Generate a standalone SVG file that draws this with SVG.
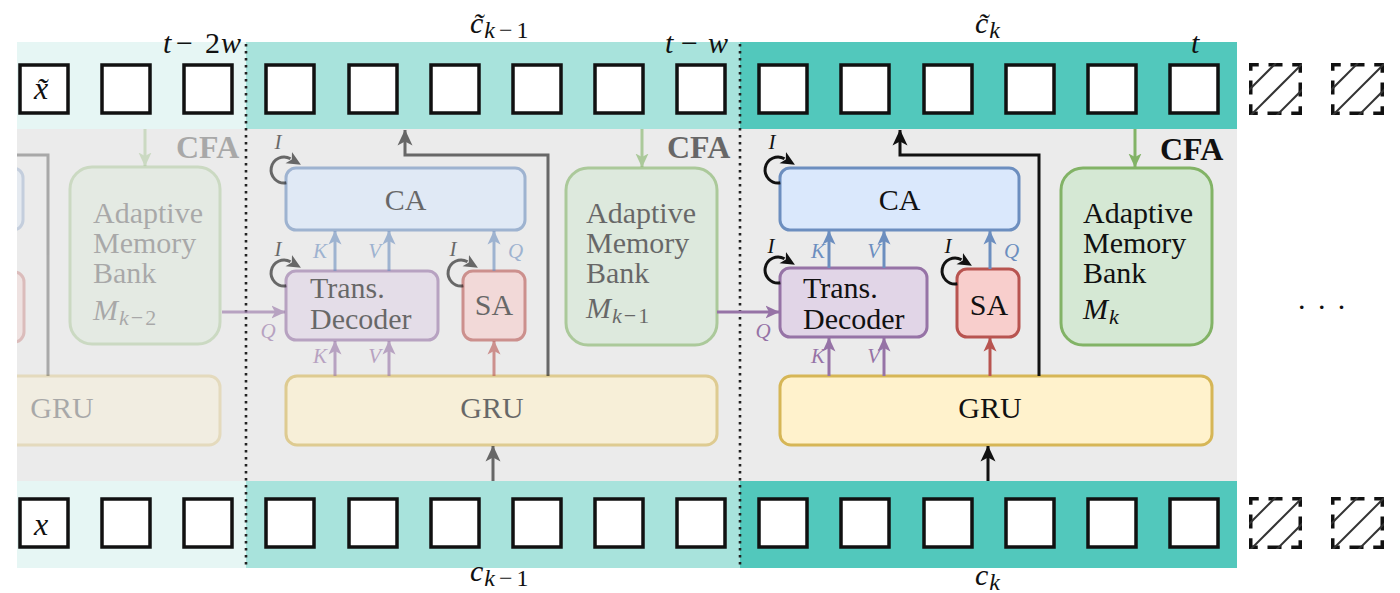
<svg xmlns="http://www.w3.org/2000/svg" width="1400" height="593" viewBox="0 0 1400 593">
  <style>
    .f{font-family:'Liberation Serif','DejaVu Serif',serif}
    .it{font-style:italic}
    .up{font-style:normal}
    .lbl{font-size:30px;fill:#111}
    .cfa{font-size:32px;font-weight:bold;fill:#111}
    .frame{fill:#fff;stroke:#111;stroke-width:3.5}
    .pend{fill:none;stroke:#111;stroke-width:3.5;stroke-dasharray:16 9.75 14 9.75;stroke-dashoffset:8}
    .hatch{stroke:#333;stroke-width:2}
    .ca{fill:#DAE8FC;stroke:#6C8EBF;stroke-width:3}
    .td{fill:#E1D5E7;stroke:#9673A6;stroke-width:3}
    .sa{fill:#F8CECC;stroke:#B85450;stroke-width:3}
    .gru{fill:#FFF2CC;stroke:#D6B656;stroke-width:3}
    .mb{fill:#D5E8D4;stroke:#82B366;stroke-width:3}
    .mid{opacity:.6}
    .faint{opacity:.3}
    .w-k{fill:none;stroke:#111;stroke-width:3}
    .w-b{fill:none;stroke:#6C8EBF;stroke-width:3}
    .w-p{fill:none;stroke:#9673A6;stroke-width:3}
    .w-r{fill:none;stroke:#B85450;stroke-width:3}
    .w-g{fill:none;stroke:#82B366;stroke-width:3}
    .kv{font-size:21px;font-style:italic}
    .kb{fill:#6C8EBF}
    .kp{fill:#9673A6}
    .ii{font-size:21px;font-style:italic;fill:#111}
    .dots{fill:none;stroke:#222;stroke-width:2.6;stroke-dasharray:2.6 4.4}
  </style>
  <defs>
    <marker id="ah-k" viewBox="0 0 16 16" refX="15.5" refY="8" markerWidth="16" markerHeight="16" orient="auto" markerUnits="userSpaceOnUse"><path d="M0,0.5 L16,8 L0,15.5 L4,8 z" fill="#111"/></marker>
    <marker id="ah-b" viewBox="0 0 14 14" refX="13.5" refY="7" markerWidth="14" markerHeight="14" orient="auto" markerUnits="userSpaceOnUse"><path d="M0,0.5 L14,7 L0,13.5 L3.5,7 z" fill="#6C8EBF"/></marker>
    <marker id="ah-p" viewBox="0 0 14 14" refX="13.5" refY="7" markerWidth="14" markerHeight="14" orient="auto" markerUnits="userSpaceOnUse"><path d="M0,0.5 L14,7 L0,13.5 L3.5,7 z" fill="#9673A6"/></marker>
    <marker id="ah-r" viewBox="0 0 14 14" refX="13.5" refY="7" markerWidth="14" markerHeight="14" orient="auto" markerUnits="userSpaceOnUse"><path d="M0,0.5 L14,7 L0,13.5 L3.5,7 z" fill="#B85450"/></marker>
    <marker id="ah-g" viewBox="0 0 14 14" refX="13.5" refY="7" markerWidth="14" markerHeight="14" orient="auto" markerUnits="userSpaceOnUse"><path d="M0,0.5 L14,7 L0,13.5 L3.5,7 z" fill="#82B366"/></marker>
    <marker id="ah-loop" viewBox="0 0 14 14" refX="2" refY="7" markerWidth="14" markerHeight="14" orient="auto" markerUnits="userSpaceOnUse"><path d="M0,0.5 L14,7 L0,13.5 L3.5,7 z" fill="#111"/></marker>
    <clipPath id="clip-left"><rect x="17" y="0" width="1400" height="593"/></clipPath>
    <clipPath id="clip-pend"><rect x="0" y="0" width="53" height="52"/></clipPath>
    <g id="pending">
      <rect class="pend" x="1.75" y="1.75" width="49.5" height="48.5"/>
      <g clip-path="url(#clip-pend)">
        <line class="hatch" x1="-28" y1="55" x2="27" y2="0"/>
        <line class="hatch" x1="-1" y1="55" x2="54" y2="0"/>
        <line class="hatch" x1="25" y1="55" x2="80" y2="0"/>
      </g>
    </g>
  </defs>

  <!-- background bands -->
  <g id="background">
    <rect x="17" y="129" width="1220" height="352" fill="#EBEBEB"/>
    <rect x="17" y="42" width="229" height="87" fill="#E6F6F4"/>
    <rect x="246" y="42" width="494" height="87" fill="#A8E3DC"/>
    <rect x="740" y="42" width="497" height="87" fill="#52C8BC"/>
    <rect x="17" y="481" width="229" height="87" fill="#E6F6F4"/>
    <rect x="246" y="481" width="494" height="87" fill="#A8E3DC"/>
    <rect x="740" y="481" width="497" height="87" fill="#52C8BC"/>
    <line class="dots" x1="246" y1="44" x2="246" y2="568"/>
    <line class="dots" x1="740" y1="44" x2="740" y2="568"/>
  </g>

  <!-- output sequence (top) -->
  <g id="top-strip">
    <rect class="frame" x="20" y="65" width="48" height="48"/>
    <rect class="frame" x="102" y="65" width="48" height="48"/>
    <rect class="frame" x="184" y="65" width="48" height="48"/>
    <rect class="frame" x="266" y="65" width="48" height="48"/>
    <rect class="frame" x="349" y="65" width="48" height="48"/>
    <rect class="frame" x="431" y="65" width="48" height="48"/>
    <rect class="frame" x="513" y="65" width="48" height="48"/>
    <rect class="frame" x="595" y="65" width="48" height="48"/>
    <rect class="frame" x="677" y="65" width="48" height="48"/>
    <rect class="frame" x="759" y="65" width="48" height="48"/>
    <rect class="frame" x="841" y="65" width="48" height="48"/>
    <rect class="frame" x="924" y="65" width="48" height="48"/>
    <rect class="frame" x="1006" y="65" width="48" height="48"/>
    <rect class="frame" x="1088" y="65" width="48" height="48"/>
    <rect class="frame" x="1170" y="65" width="48" height="48"/>
    <use href="#pending" x="1249" y="63"/>
    <use href="#pending" x="1331" y="63"/>
    <text class="f it" x="41" y="99" font-size="32" text-anchor="middle" fill="#111">x̃</text>
    <text class="f it" font-size="30" y="53" fill="#111"><tspan x="163">t</tspan><tspan class="up" x="176">−</tspan><tspan class="up" x="205">2</tspan><tspan x="221">w</tspan></text>
    <text class="f it" font-size="30" y="53" fill="#111"><tspan x="665">t</tspan><tspan class="up" x="681">−</tspan><tspan x="708">w</tspan></text>
    <text class="f it" font-size="30" x="1191" y="53" fill="#111">t</text>
    <text class="f it" font-size="30" x="470" y="33" fill="#111">c̃<tspan font-size="24" dy="5" dx="1">k</tspan><tspan class="up" font-size="24" dx="4">−</tspan><tspan class="up" font-size="24" dx="4">1</tspan></text>
    <text class="f it" font-size="30" x="975" y="33" fill="#111">c̃<tspan font-size="24" dy="5" dx="1">k</tspan></text>
  </g>

  <!-- input sequence (bottom) -->
  <g id="bottom-strip">
    <rect class="frame" x="20" y="499" width="48" height="48"/>
    <rect class="frame" x="102" y="499" width="48" height="48"/>
    <rect class="frame" x="184" y="499" width="48" height="48"/>
    <rect class="frame" x="266" y="499" width="48" height="48"/>
    <rect class="frame" x="349" y="499" width="48" height="48"/>
    <rect class="frame" x="431" y="499" width="48" height="48"/>
    <rect class="frame" x="513" y="499" width="48" height="48"/>
    <rect class="frame" x="595" y="499" width="48" height="48"/>
    <rect class="frame" x="677" y="499" width="48" height="48"/>
    <rect class="frame" x="759" y="499" width="48" height="48"/>
    <rect class="frame" x="841" y="499" width="48" height="48"/>
    <rect class="frame" x="924" y="499" width="48" height="48"/>
    <rect class="frame" x="1006" y="499" width="48" height="48"/>
    <rect class="frame" x="1088" y="499" width="48" height="48"/>
    <rect class="frame" x="1170" y="499" width="48" height="48"/>
    <use href="#pending" x="1249" y="497"/>
    <use href="#pending" x="1331" y="497"/>
    <text class="f it" x="41" y="535" font-size="32" text-anchor="middle" fill="#111">x</text>
    <text class="f it" font-size="30" x="470" y="581" fill="#111">c<tspan font-size="24" dy="5" dx="1">k</tspan><tspan class="up" font-size="24" dx="4">−</tspan><tspan class="up" font-size="24" dx="4">1</tspan></text>
    <text class="f it" font-size="30" x="975" y="585" fill="#111">c<tspan font-size="24" dy="5" dx="1">k</tspan></text>
  </g>

  <text class="f" font-size="30" x="1298" y="309" letter-spacing="12.4" fill="#111">...</text>

  <!-- window k-2 (faded, cut at the left edge) -->
  <g clip-path="url(#clip-left)">
    <g id="ca-k2" class="faint"><rect class="ca" x="-200" y="168" width="223" height="62" rx="10"/></g>
    <g id="sa-k2" class="faint"><rect class="sa" x="-40" y="272" width="64" height="70" rx="10"/></g>
    <g id="gru-k2" class="faint">
      <rect class="gru" x="-220" y="376" width="440" height="69" rx="11"/>
      <text class="f lbl" x="62" y="418" text-anchor="middle">GRU</text>
    </g>
    <g id="mb-k2" class="faint">
      <rect class="mb" x="70" y="167" width="150" height="177" rx="22"/>
      <text class="f lbl" x="93" y="223">Adaptive</text>
      <text class="f lbl" x="93" y="253">Memory</text>
      <text class="f lbl" x="93" y="283">Bank</text>
      <text class="f lbl it" x="93" y="320">M<tspan font-size="22" dy="5" dx="1">k</tspan><tspan class="up" font-size="22" dx="2">−</tspan><tspan class="up" font-size="22" dx="2">2</tspan></text>
    </g>
  </g>

  <!-- window k-1 -->
  <g id="ca-k1" class="mid">
    <rect class="ca" x="286" y="168" width="239" height="62" rx="10"/>
    <text class="f lbl" x="405.5" y="210" text-anchor="middle">CA</text>
  </g>
  <g id="td-k1" class="mid">
    <rect class="td" x="286" y="271" width="152" height="69" rx="10"/>
    <text class="f lbl" x="310" y="298">Trans.</text>
    <text class="f lbl" x="310" y="329">Decoder</text>
  </g>
  <g id="sa-k1" class="mid">
    <rect class="sa" x="463" y="271" width="62" height="69" rx="10"/>
    <text class="f lbl" x="494" y="315" text-anchor="middle">SA</text>
  </g>
  <g id="gru-k1" class="mid">
    <rect class="gru" x="286" y="376" width="431" height="69" rx="11"/>
    <text class="f lbl" x="492" y="418" text-anchor="middle">GRU</text>
  </g>
  <g id="mb-k1" class="mid">
    <rect class="mb" x="566" y="168" width="151" height="177" rx="22"/>
    <text class="f lbl" x="586" y="223">Adaptive</text>
    <text class="f lbl" x="586" y="253">Memory</text>
    <text class="f lbl" x="586" y="283">Bank</text>
    <text class="f lbl it" x="586" y="318">M<tspan font-size="22" dy="5" dx="1">k</tspan><tspan class="up" font-size="22" dx="2">−</tspan><tspan class="up" font-size="22" dx="2">1</tspan></text>
  </g>

  <!-- window k -->
  <g id="ca-k">
    <rect class="ca" x="780" y="168" width="239" height="62" rx="10"/>
    <text class="f lbl" x="899.5" y="210" text-anchor="middle">CA</text>
  </g>
  <g id="td-k">
    <rect class="td" x="780" y="268" width="147" height="69" rx="10"/>
    <text class="f lbl" x="803" y="298">Trans.</text>
    <text class="f lbl" x="803" y="329">Decoder</text>
  </g>
  <g id="sa-k">
    <rect class="sa" x="957" y="269" width="62" height="68" rx="10"/>
    <text class="f lbl" x="989" y="315" text-anchor="middle">SA</text>
  </g>
  <g id="gru-k">
    <rect class="gru" x="780" y="376" width="432" height="69" rx="11"/>
    <text class="f lbl" x="990" y="418" text-anchor="middle">GRU</text>
  </g>
  <g id="mb-k">
    <rect class="mb" x="1061" y="168" width="151" height="177" rx="22"/>
    <text class="f lbl" x="1083" y="223">Adaptive</text>
    <text class="f lbl" x="1083" y="253">Memory</text>
    <text class="f lbl" x="1083" y="283">Bank</text>
    <text class="f lbl it" x="1083" y="319">M<tspan font-size="22" dy="5" dx="1">k</tspan></text>
  </g>

  <!-- connectors -->
  <g id="connectors">
    <g class="faint" clip-path="url(#clip-left)">
      <path class="w-k" d="M0,155 H48 V376"/>
      <line class="w-g" x1="145" y1="129" x2="145" y2="166" marker-end="url(#ah-g)"/>
      <text class="f cfa" x="176" y="158">CFA</text>
    </g>

    <g class="mid">
      <line class="w-g" x1="642" y1="129" x2="642" y2="167" marker-end="url(#ah-g)"/>
      <text class="f cfa" x="667" y="158">CFA</text>
      <path class="w-k" d="M548,376 V155 H405 V130" marker-end="url(#ah-k)"/>
      <line class="w-k" x1="493" y1="481" x2="493" y2="446" marker-end="url(#ah-k)"/>
      <line class="w-p" x1="222" y1="312" x2="285" y2="312" marker-end="url(#ah-p)"/>
      <line class="w-p" x1="335" y1="376" x2="335" y2="341" marker-end="url(#ah-p)"/>
      <line class="w-p" x1="389" y1="376" x2="389" y2="341" marker-end="url(#ah-p)"/>
      <line class="w-r" x1="494" y1="376" x2="494" y2="341" marker-end="url(#ah-r)"/>
      <line class="w-b" x1="335" y1="271" x2="335" y2="231" marker-end="url(#ah-b)"/>
      <line class="w-b" x1="389" y1="271" x2="389" y2="231" marker-end="url(#ah-b)"/>
      <line class="w-b" x1="494" y1="271" x2="494" y2="231" marker-end="url(#ah-b)"/>
      <path class="w-k" d="M286.3,182.8 A13,13 0 1 1 290.5,158.7" marker-end="url(#ah-loop)"/>
      <path class="w-k" d="M286.3,285.8 A13,13 0 1 1 290.5,261.7" marker-end="url(#ah-loop)"/>
      <path class="w-k" d="M463.3,285.8 A13,13 0 1 1 467.5,261.7" marker-end="url(#ah-loop)"/>
      <text class="f ii" x="278" y="149" text-anchor="middle">I</text>
      <text class="f ii" x="278" y="256" text-anchor="middle">I</text>
      <text class="f ii" x="453" y="256" text-anchor="middle">I</text>
      <text class="f kv kb" x="327" y="258" text-anchor="end">K</text>
      <text class="f kv kb" x="381" y="258" text-anchor="end">V</text>
      <text class="f kv kb" x="508" y="258">Q</text>
      <text class="f kv kp" x="327" y="363" text-anchor="end">K</text>
      <text class="f kv kp" x="381" y="363" text-anchor="end">V</text>
      <text class="f kv kp" x="268" y="338" text-anchor="middle">Q</text>
    </g>

    <g>
      <line class="w-g" x1="1135" y1="129" x2="1135" y2="167" marker-end="url(#ah-g)"/>
      <text class="f cfa" x="1160" y="160">CFA</text>
      <path class="w-k" d="M1039,376 V155 H900 V130" marker-end="url(#ah-k)"/>
      <line class="w-k" x1="988" y1="481" x2="988" y2="446" marker-end="url(#ah-k)"/>
      <line class="w-p" x1="717" y1="312" x2="779" y2="312" marker-end="url(#ah-p)"/>
      <line class="w-p" x1="829" y1="376" x2="829" y2="338" marker-end="url(#ah-p)"/>
      <line class="w-p" x1="884" y1="376" x2="884" y2="338" marker-end="url(#ah-p)"/>
      <line class="w-r" x1="990" y1="376" x2="990" y2="338" marker-end="url(#ah-r)"/>
      <line class="w-b" x1="829" y1="268" x2="829" y2="231" marker-end="url(#ah-b)"/>
      <line class="w-b" x1="884" y1="268" x2="884" y2="231" marker-end="url(#ah-b)"/>
      <line class="w-b" x1="990" y1="269" x2="990" y2="231" marker-end="url(#ah-b)"/>
      <path class="w-k" d="M780.3,182.8 A13,13 0 1 1 784.5,158.7" marker-end="url(#ah-loop)"/>
      <path class="w-k" d="M780.3,282.8 A13,13 0 1 1 784.5,258.7" marker-end="url(#ah-loop)"/>
      <path class="w-k" d="M957.3,283.8 A13,13 0 1 1 961.5,259.7" marker-end="url(#ah-loop)"/>
      <text class="f ii" x="772" y="149" text-anchor="middle">I</text>
      <text class="f ii" x="771" y="253" text-anchor="middle">I</text>
      <text class="f ii" x="948" y="253" text-anchor="middle">I</text>
      <text class="f kv kb" x="825" y="258" text-anchor="end">K</text>
      <text class="f kv kb" x="880" y="258" text-anchor="end">V</text>
      <text class="f kv kb" x="1004" y="258">Q</text>
      <text class="f kv kp" x="825" y="363" text-anchor="end">K</text>
      <text class="f kv kp" x="880" y="363" text-anchor="end">V</text>
      <text class="f kv kp" x="763" y="338" text-anchor="middle">Q</text>
    </g>
  </g>
</svg>
